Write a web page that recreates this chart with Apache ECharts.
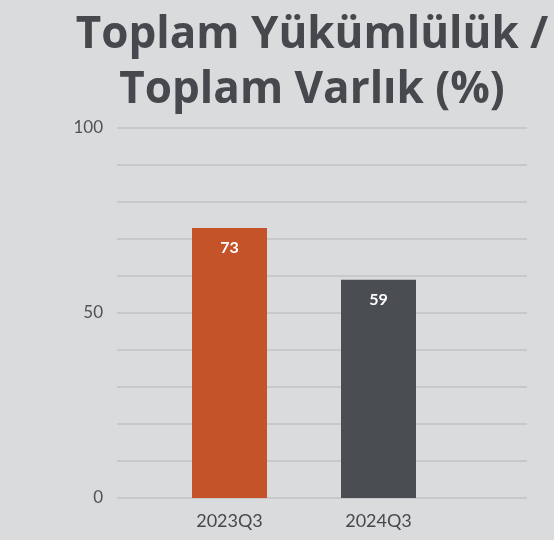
<!DOCTYPE html>
<html>
<head>
<meta charset="utf-8">
<script src="https://cdn.jsdelivr.net/npm/echarts@6/dist/echarts.min.js"></script>
<style>
	html, body { margin: 0; padding: 0; background: #dadbdc; }
	#chart { width: 554px; height: 540px; }
</style>
</head>
<body>
<div id="chart"></div>
<script>
// veriler
const categories = ['2023Q3', '2024Q3'];
const values = [73, 59];
const barColors = ['#c4532a', '#4a4d52'];
const yTicks = [0, 50, 100];

let myChart = echarts.init(document.getElementById('chart'));
myChart.setOption({
	backgroundColor: '#dadbdc',
	title: {
		text: 'Toplam Yükümlülük /\nToplam Varlık (%)',
		left: 307,
		textAlign: 'center',
		top: 3,
		textStyle: {
			fontFamily: 'Open Sans',
			fontWeight: 'bold',
			fontSize: 44,
			lineHeight: 55,
			color: '#45484c'
		}
	},
	grid: [
		// arka plan çizgileri
		{ left: 117, right: 27, top: 128, bottom: 42 },
		// sütunlar
		{ left: 155, right: 101, top: 128, bottom: 42 }
	],
	xAxis: [
		{ gridIndex: 0, type: 'value', show: false, min: 0, max: 1 },
		{
			gridIndex: 1,
			type: 'category',
			data: categories,
			axisLine: { show: false },
			axisTick: { show: false },
			axisLabel: {
				margin: 14,
				fontFamily: 'Lato',
				fontSize: 18,
				color: '#45484c'
			}
		}
	],
	yAxis: [
		{
			gridIndex: 0,
			type: 'value',
			min: 0,
			max: 100,
			interval: 10,
			axisLine: { show: false },
			axisTick: { show: false },
			splitLine: { lineStyle: { color: '#c7c8c9', width: 2 } },
			axisLabel: {
				margin: 14,
				fontFamily: 'Lato',
				fontSize: 17,
				color: '#4f5256',
				formatter: v => yTicks.includes(v) ? String(v) : ''
			}
		},
		{ gridIndex: 1, type: 'value', min: 0, max: 100, show: false, splitLine: { show: false } }
	],
	series: [
		{
			type: 'bar',
			xAxisIndex: 1,
			yAxisIndex: 1,
			barWidth: 75,
			data: values.map((v, i) => ({ value: v, itemStyle: { color: barColors[i] } })),
			label: {
				show: true,
				position: 'insideTop',
				distance: 12,
				fontFamily: 'Lato',
				fontWeight: 'bold',
				fontSize: 16,
				color: '#ffffff'
			}
		}
	]
});
</script>
</body>
</html>
